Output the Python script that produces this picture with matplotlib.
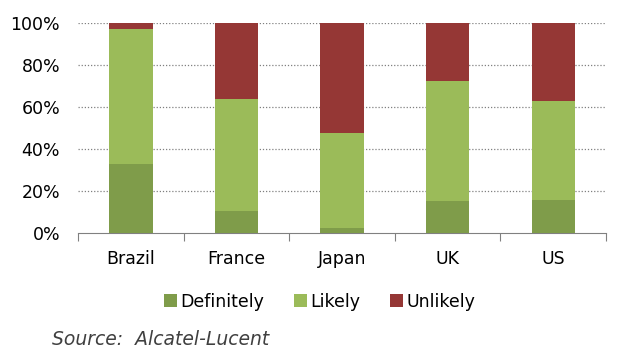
import matplotlib.pyplot as plt
import numpy as np

countries = ['Brazil', 'France', 'Japan', 'UK', 'US']
definitely = [33, 10.5, 2.5, 15, 15.5]
likely = [64, 53.5, 45, 57.5, 47.5]
unlikely = [3, 36, 52.5, 27.5, 37]

colors = {'Definitely': '#7F9C4A', 'Likely': '#9BBB59', 'Unlikely': '#953735'}

fig = plt.figure(figsize=(6.3, 3.59), dpi=100)
ax = fig.add_axes([0.124, 0.351, 0.838, 0.585])

x = np.arange(len(countries))
ax.bar(x, definitely, width=0.41, color=colors['Definitely'], label='Definitely', zorder=3)
ax.bar(x, likely, width=0.41, bottom=definitely, color=colors['Likely'], label='Likely', zorder=3)
bottom2 = np.array(definitely) + np.array(likely)
ax.bar(x, unlikely, width=0.41, bottom=bottom2, color=colors['Unlikely'], label='Unlikely', zorder=3)

ax.set_xlim(-0.5, len(countries) - 0.5)
ax.set_ylim(0, 100)
ax.set_yticks(np.arange(0, 101, 20))
ax.set_yticklabels([f'{v}%' for v in range(0, 101, 20)], fontsize=12.5)
for v in range(20, 101, 20):
    ax.axhline(v, color='#808080', linestyle=(0, (1, 1.5)), linewidth=0.9, zorder=1)

# category boundaries as major ticks, names on minor ticks
ax.set_xticks(np.arange(-0.5, len(countries), 1))
ax.set_xticklabels([])
ax.set_xticks(x, minor=True)
ax.set_xticklabels(countries, minor=True, fontsize=12.5)
ax.tick_params(axis='x', which='major', length=6, color='#808080', direction='out')
ax.tick_params(axis='x', which='minor', length=0, pad=12)
ax.tick_params(axis='y', length=0, pad=13)

for s in ['top', 'right', 'left']:
    ax.spines[s].set_visible(False)
ax.spines['bottom'].set_color('#808080')

fig.legend(loc='center', bbox_to_anchor=(0.507, 0.16), ncol=3, frameon=False,
           fontsize=12.5, handlelength=0.75, handleheight=0.75, handletextpad=0.2,
           columnspacing=1.7)
fig.text(0.083, 0.04, 'Source:  Alcatel-Lucent', fontsize=13.5, style='italic',
         color='#404040')

fig.savefig('out.png', dpi=100)
